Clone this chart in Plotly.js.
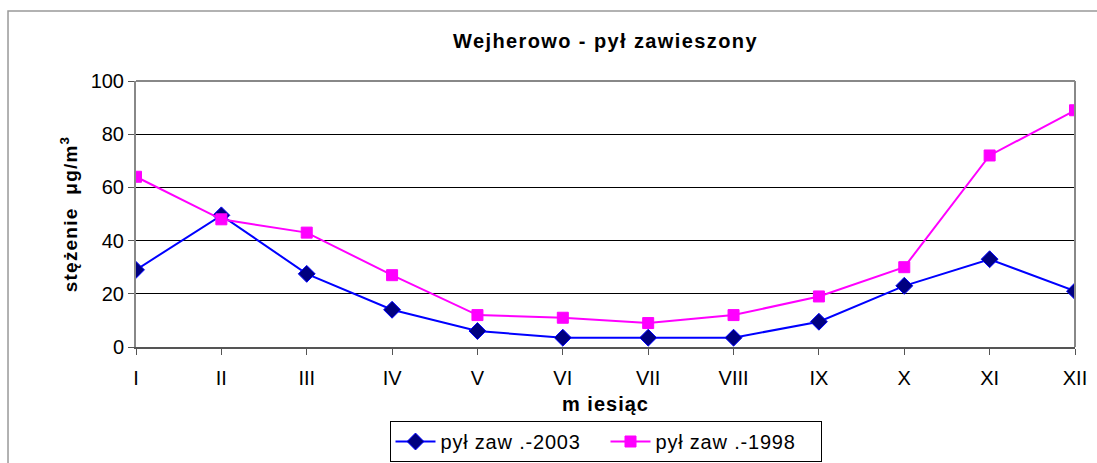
<!DOCTYPE html>
<html><head><meta charset="utf-8">
<script src="https://cdn.plot.ly/plotly-3.0.1.min.js"></script>
<style>html,body{margin:0;padding:0;background:#fff}#chart{width:1097px;height:463px}
.gtitle{letter-spacing:1.4px}
.legendtext{letter-spacing:0.8px}
.ytitle{letter-spacing:1.2px}
.xtitle{letter-spacing:1px}
</style>
</head><body><div id="chart"></div>
<script>
const months = ["I","II","III","IV","V","VI","VII","VIII","IX","X","XI","XII"];
const pyl2003 = [29, 49.5, 27.5, 14, 6, 3.5, 3.5, 3.5, 9.5, 23, 33, 21];
const pyl1998 = [64, 48, 43, 27, 12, 11, 9, 12, 19, 30, 72, 89];
const yTicks = [0, 20, 40, 60, 80, 100];

const font = "Liberation Sans, Arial, sans-serif";
const traces = [
  {x: months, y: pyl2003, name: "pył zaw .-2003", type: "scatter", mode: "lines+markers",
   line: {color: "#0000FF", width: 2},
   marker: {symbol: "diamond", size: 13, color: "#000080", line: {color: "#0000FF", width: 1}}},
  {x: months, y: pyl1998, name: "pył zaw .-1998", type: "scatter", mode: "lines+markers",
   line: {color: "#FF00FF", width: 2},
   marker: {symbol: "square", size: 11, color: "#FF00FF", line: {color: "#FF00FF", width: 1}}}
];
const layout = {
  width: 1097, height: 463,
  margin: {l: 136, r: 22, t: 81, b: 116},
  paper_bgcolor: "#fff", plot_bgcolor: "#fff",
  font: {family: font, color: "#000", size: 20},
  title: {text: "<b>Wejherowo - pył zawieszony</b>", font: {size: 20, family: font},
          x: 0.5, xref: "paper", y: 42, yref: "container", yanchor: "middle"},
  xaxis: {type: "category", range: [0, 11], automargin: false,
          showline: true, linecolor: "#555", linewidth: 2, mirror: false,
          ticks: "outside", ticklen: 6, tickcolor: "#555", showgrid: false,
          ticklabelstandoff: 6,
          tickfont: {size: 20}, zeroline: false,
          title: {text: "<b>m iesiąc</b>", font: {size: 20}, standoff: 9}},
  yaxis: {range: [0, 100], tickvals: yTicks, showgrid: true, gridcolor: "#000", gridwidth: 1,
          automargin: false,
          showline: true, linecolor: "#888", linewidth: 2, mirror: false,
          ticks: "outside", ticklen: 6, tickcolor: "#555", zeroline: false,
          tickfont: {size: 20},
          title: {text: "<b>stężenie  μg/m<sup>3</sup></b>", font: {size: 19}, standoff: 8}},
  showlegend: true,
  legend: {orientation: "h", x: 0.5, xanchor: "center", yref: "container", y: 0.0907, yanchor: "top",
           bordercolor: "#000", borderwidth: 1, font: {size: 20}, bgcolor: "#fff",
           itemwidth: 40, entrywidth: 160},
  shapes: [
    {type: "line", xref: "paper", yref: "paper", x0: 0, x1: 1, y0: 1, y1: 1, line: {color: "#888", width: 2}},
    {type: "line", xref: "paper", yref: "paper", x0: 1, x1: 1, y0: 0, y1: 1, line: {color: "#888", width: 2}},
    {type: "rect", xref: "paper", yref: "paper", x0: -0.1363, x1: 1.2, y0: -0.6, y1: 1.263,
     line: {color: "#999", width: 1.5}, layer: "below"}
  ]
};
Plotly.newPlot("chart", traces, layout, {displayModeBar: false, staticPlot: true});
</script></body></html>
